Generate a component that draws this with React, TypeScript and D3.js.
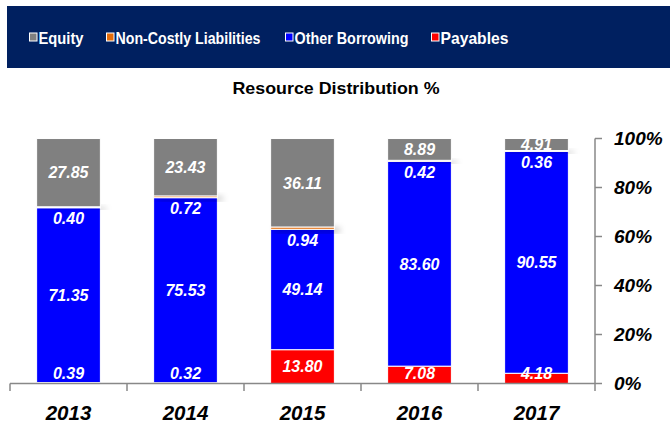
import React from "react";
import * as d3 from "d3";

const years = ["2013", "2014", "2015", "2016", "2017"];
const payables = [0.39, 0.32, 13.8, 7.08, 4.18];
const otherBorrowing = [71.35, 75.53, 49.14, 83.6, 90.55];
const nonCostly = [0.4, 0.72, 0.94, 0.42, 0.36];
const equity = [27.85, 23.43, 36.11, 8.89, 4.91];
const yTicks = [0, 20, 40, 60, 80, 100];

const seriesNames = ["Equity", "Non-Costly Liabilities", "Other Borrowing", "Payables"];
const seriesColors: Record<string, string> = {
  Equity: "#808080",
  "Non-Costly Liabilities": "#E46C0A",
  "Other Borrowing": "#0000FF",
  Payables: "#FF0000",
};

const W = 670;
const H = 425;
const FONT = "'Liberation Sans', Arial, sans-serif";

export default function App() {
  const x = d3.scaleBand<string>().domain(years).range([10, 595]).paddingInner(0.455).paddingOuter(0.2275);
  const y = d3.scaleLinear().domain([0, 100]).range([383.5, 138.5]);

  const rows = years.map((yr, i) => ({
    year: yr,
    Payables: payables[i],
    "Other Borrowing": otherBorrowing[i],
    "Non-Costly Liabilities": nonCostly[i],
    Equity: equity[i],
  }));
  const keys = ["Payables", "Other Borrowing", "Non-Costly Liabilities", "Equity"];
  const stacked = d3.stack<any>().keys(keys)(rows);

  const legendX = [29, 106, 285, 431];
  const legendW = [45, 145, 114, 68];
  const bw = x.bandwidth();

  const labelY = (key: string, d: [number, number]) => {
    const center = (y(d[0]) + y(d[1])) / 2;
    if (key === "Payables") return Math.min(center, y(0) - 10);
    if (key === "Non-Costly Liabilities") return y(d[0]) + 11;
    return center;
  };

  const boundaries = [...years.map((yr) => x(yr)! - (x.step() - bw) / 2), 595];

  return (
    <svg width={W} height={H} style={{ position: "absolute", left: 0, top: 0 }}>
      <defs>
        <filter id="shadow" x="-50%" y="-200%" width="200%" height="500%">
          <feDropShadow dx="5" dy="2" stdDeviation="3" floodColor="#000" floodOpacity="0.35" />
        </filter>
        <clipPath id="plotClip">
          <rect x={0} y={138.5} width={600} height={260} />
        </clipPath>
      </defs>
      <rect x={0} y={0} width={W} height={H} fill="#fff" />
      {/* header band */}
      <rect x={7} y={6} width={W - 7} height={62} fill="#002060" />
      {seriesNames.map((name, i) => (
        <g key={name} transform={`translate(${legendX[i]},0)`}>
          <rect x={0.5} y={33} width={7.5} height={8} fill={seriesColors[name]} stroke="#fff" strokeWidth={1} />
          <text
            x={9.5}
            y={44}
            fill="#fff"
            fontFamily={FONT}
            fontWeight="bold"
            fontSize={16.5}
            textLength={legendW[i]}
            lengthAdjust="spacingAndGlyphs"
          >
            {name}
          </text>
        </g>
      ))}
      <text
        x={336}
        y={94}
        textAnchor="middle"
        fontFamily={FONT}
        fontWeight="bold"
        fontSize={16.5}
        fill="#000"
        textLength={207}
        lengthAdjust="spacingAndGlyphs"
      >
        Resource Distribution %
      </text>

      {/* bars */}
      {stacked.map((s) =>
        s.map((d, i) => (
          <rect
            key={s.key + i}
            x={x(years[i])}
            y={y(d[1])}
            width={bw}
            height={Math.max(0, y(d[0]) - y(d[1]))}
            fill={seriesColors[s.key]}
            stroke="#fff"
            strokeWidth={1}
            filter={s.key === "Non-Costly Liabilities" ? "url(#shadow)" : undefined}
          />
        ))
      )}

      {/* data labels */}
      <g clipPath="url(#plotClip)">
        {stacked.map((s) =>
          s.map((d, i) => (
            <text
              key={"l" + s.key + i}
              x={x(years[i])! + bw / 2}
              y={labelY(s.key, d as any)}
              dy="0.36em"
              textAnchor="middle"
              fill="#fff"
              fontFamily={FONT}
              fontWeight="bold"
              fontStyle="italic"
              fontSize={16}
            >
              {(d.data as any)[s.key].toFixed(2)}
            </text>
          ))
        )}
      </g>

      {/* x axis */}
      <line x1={10} x2={595} y1={383.5} y2={383.5} stroke="#888" strokeWidth={1.5} />
      {boundaries.map((bx, i) => (
        <line key={"xt" + i} x1={bx} x2={bx} y1={383.5} y2={391} stroke="#888" strokeWidth={1.5} />
      ))}
      {years.map((yr) => (
        <text
          key={"yl" + yr}
          x={x(yr)! + bw / 2}
          y={420}
          textAnchor="middle"
          fontFamily={FONT}
          fontWeight="bold"
          fontStyle="italic"
          fontSize={20.5}
          fill="#000"
        >
          {yr}
        </text>
      ))}

      {/* y axis */}
      <line x1={595} x2={595} y1={y(100)} y2={y(0)} stroke="#888" strokeWidth={1.5} />
      {yTicks.map((t) => (
        <g key={"yt" + t}>
          <line x1={595} x2={602} y1={y(t)} y2={y(t)} stroke="#888" strokeWidth={1.5} />
          <text
            x={614}
            y={y(t)}
            dy="0.36em"
            fontFamily={FONT}
            fontWeight="bold"
            fontStyle="italic"
            fontSize={19}
            fill="#000"
          >
            {t}%
          </text>
        </g>
      ))}
    </svg>
  );
}
